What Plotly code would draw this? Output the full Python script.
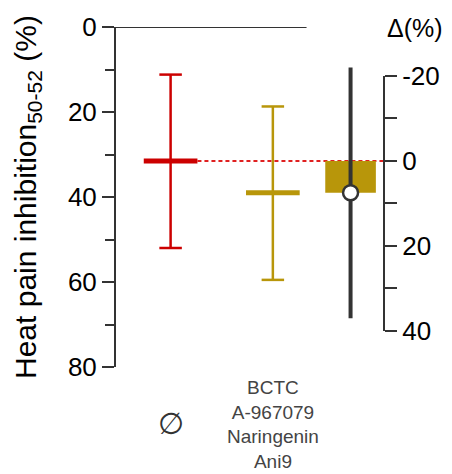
import plotly.graph_objects as go

# ---- data ----
groups = ["∅", "BCTC<br>A-967079<br>Naringenin<br>Ani9"]
group_means = [31.5, 39.0]
group_ci_low = [11.2, 18.7]
group_ci_high = [52.0, 59.5]
diff_mean = 7.5
diff_ci = [-22.0, 37.0]
left_ticks = [0, 20, 40, 60, 80]
left_minor = [10, 30, 50, 70]
right_ticks = [-20, 0, 20, 40]
right_ticktext = ["-20", "0", "20", "40"]
right_minor = [-10, 10, 30]

# ---- style/layout ----
RED = "#CC0000"
OLIVE = "#B8960A"
DARK = "#333333"
colors = [RED, OLIVE]
pos = [0.0, 1.0]
diff_pos = 1.76
mean_w = 0.525
cap_w = 0.22
rect_w = 0.495
xr = [-0.534, 2.087]
ref = group_means[0]

fig = go.Figure()

for i in range(2):
    p, c = pos[i], colors[i]
    lo, hi, m = group_ci_low[i], group_ci_high[i], group_means[i]
    fig.add_trace(go.Scatter(x=[p, p], y=[lo, hi], mode="lines",
                             line=dict(color=c, width=2.5), hoverinfo="skip"))
    for v in (lo, hi):
        fig.add_trace(go.Scatter(x=[p - cap_w / 2, p + cap_w / 2], y=[v, v], mode="lines",
                                 line=dict(color=c, width=2.5), hoverinfo="skip"))
    fig.add_trace(go.Scatter(x=[p - mean_w / 2, p + mean_w / 2], y=[m, m], mode="lines",
                             line=dict(color=c, width=5), hoverinfo="skip"))

fig.add_trace(go.Scatter(x=[pos[0] + mean_w / 2, xr[1]], y=[ref, ref], mode="lines",
                         line=dict(color="#E02020", width=2, dash="4px,3px"), hoverinfo="skip"))

fig.add_trace(go.Bar(x=[diff_pos], y=[diff_mean], base=0, width=rect_w, yaxis="y2",
                     marker=dict(color=OLIVE, line=dict(width=0)), hoverinfo="skip"))
fig.add_trace(go.Scatter(x=[diff_pos, diff_pos], y=diff_ci, yaxis="y2", mode="lines",
                         line=dict(color=DARK, width=4), hoverinfo="skip"))
fig.add_trace(go.Scatter(x=[diff_pos], y=[diff_mean], yaxis="y2", mode="markers",
                         marker=dict(color="white", size=15, line=dict(color=DARK, width=2.5)),
                         hoverinfo="skip"))

fig.add_shape(type="line", xref="paper", yref="y", x0=0, x1=0.711, y0=0, y1=0,
              line=dict(color=DARK, width=2))
fig.add_shape(type="line", xref="paper", yref="y2", x0=1, x1=1,
              y0=right_ticks[0], y1=right_ticks[-1], line=dict(color=DARK, width=2))

font_main = "Liberation Sans, Arial, sans-serif"

for i in range(2):
    fig.add_annotation(x=pos[i], xref="x", y=0, yref="paper", yanchor="middle",
                       yshift=-56 if i == 0 else -57,
                       text=groups[i], showarrow=False,
                       font=dict(family=font_main + ", DejaVu Sans",
                                 size=30 if i == 0 else 19,
                                 color="#333333" if i == 0 else "#444444"))

fig.add_annotation(xref="paper", x=0, xanchor="center", xshift=-89, yref="paper", y=0.5,
                   yanchor="middle", textangle=-90, showarrow=False,
                   text="Heat pain inhibition<sub>50-52</sub> (%)",
                   font=dict(family=font_main, size=30, color="black"))
fig.add_annotation(xref="paper", x=1, xanchor="center", xshift=31, yref="paper", y=1,
                   yanchor="middle", yshift=-1, showarrow=False, text="Δ(%)",
                   font=dict(family=font_main, size=25, color="black"))

fig.update_layout(
    width=452, height=474,
    margin=dict(l=116, r=66, t=24, b=107),
    paper_bgcolor="white", plot_bgcolor="white",
    showlegend=False,
    xaxis=dict(range=xr, visible=False, fixedrange=True),
    yaxis=dict(range=[80, 0], showgrid=False, zeroline=False, showline=True,
               linecolor=DARK, linewidth=2, ticks="outside", ticklen=12, tickwidth=2,
               tickcolor=DARK, tickvals=left_ticks,
               tickfont=dict(family=font_main, size=26, color="black"),
               minor=dict(tickvals=left_minor, ticks="outside", ticklen=9, tickwidth=2,
                          tickcolor=DARK, showgrid=False)),
    yaxis2=dict(range=[80 - ref, 0 - ref], overlaying="y", anchor="free", position=1,
                side="right", showgrid=False, zeroline=False, showline=False,
                ticks="outside", ticklen=12, tickwidth=2, tickcolor=DARK,
                tickvals=right_ticks, ticktext=right_ticktext,
                tickfont=dict(family=font_main, size=26, color="black"),
                minor=dict(tickvals=right_minor, ticks="outside", ticklen=12, tickwidth=2,
                           tickcolor=DARK, showgrid=False)),
)

fig.write_html("out.html")
